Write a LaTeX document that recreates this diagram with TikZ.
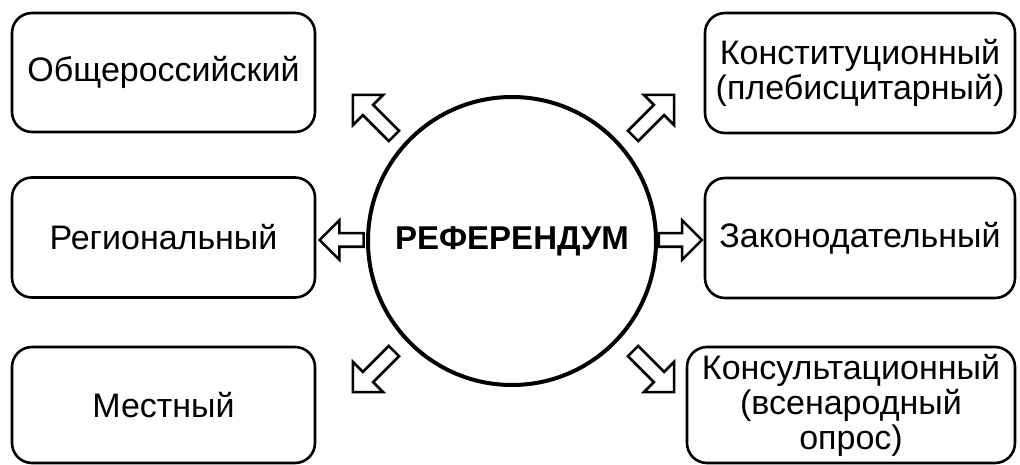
\documentclass[tikz,border=0pt]{standalone}
\usepackage{fontspec}
\setmainfont{Liberation Sans}
\usetikzlibrary{shapes.arrows}
\tikzset{
  box/.style={draw, line width=2.6pt, rounded corners=20pt, align=center,
    inner sep=0pt, font=\fontsize{34}{35}\selectfont},
  blk/.style={single arrow, draw, line width=2.6pt, inner xsep=0pt, inner ysep=6pt,
    text height=0pt, text depth=0pt, minimum width=0pt,
    single arrow head extend=14pt, single arrow tip angle=90},
  hblk/.style={blk, single arrow head extend=13pt, inner ysep=5.5pt},
}
\begin{document}
\begin{tikzpicture}[x=1pt, y=-1pt]
\useasboundingbox (0,0) rectangle (1020,465);
% boxes
\node[box, minimum width=303pt, minimum height=119pt] (b1) at (163.5,72.5) {Общероссийский};
\node[box, minimum width=303pt, minimum height=120pt] (b2) at (163.5,237.5) {Региональный};
\node[box, minimum width=303pt, minimum height=116pt] (b3) at (163.5,405) {Местный};
\node[box, minimum width=310pt, minimum height=120pt] (b4) at (860,73) {Конституционный\\(плебисцитарный)};
\node[box, minimum width=310pt, minimum height=120pt] (b5) at (860,238) {Законодательный};
\node[box, minimum width=328pt, minimum height=116pt] (b6) at (851,405) {Консультационный\\(всенародный\\опрос)};
% circle
\node[circle, draw, line width=4pt, minimum size=288pt, inner sep=0pt,
  font=\fontsize{33}{35}\selectfont\bfseries] (c) at (512,241) {РЕФЕРЕНДУМ};
% arrows
\node[blk, minimum height=58pt, rotate=135] (a1) at (376,118) {};
\node[blk, minimum height=58pt, rotate=45] (a4) at (651,118) {};
\node[hblk, minimum height=44pt, rotate=180] (a2) at (345,240) {};
\node[hblk, minimum height=43pt, rotate=0] (a5) at (677,240) {};
\node[blk, minimum height=58pt, rotate=-135] (a3) at (376,369) {};
\node[blk, minimum height=58pt, rotate=-45] (a6) at (651,369) {};
\end{tikzpicture}
\end{document}
